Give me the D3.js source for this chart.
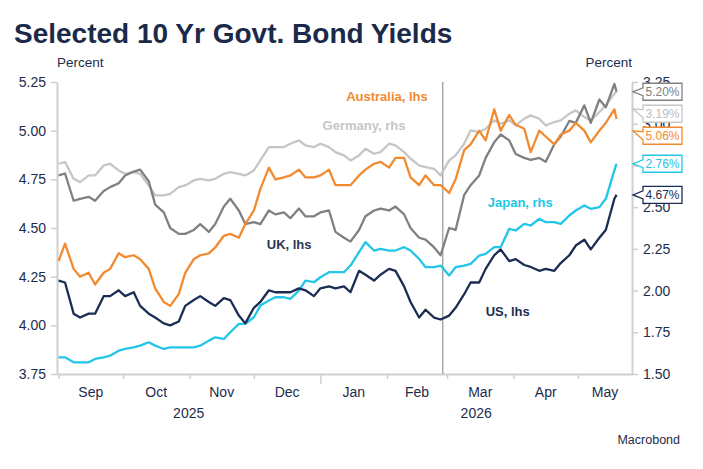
<!DOCTYPE html>
<html>
<head>
<meta charset="utf-8">
<script src="https://cdn.jsdelivr.net/npm/d3@7"></script>
<style>
  body { margin: 0; background: #fff; }
  text { font-family: "Liberation Sans", Arial, sans-serif; }
</style>
</head>
<body>
<svg width="703" height="469"></svg>
<script>
// observation dates (Mon / Thu sampling)
const dates = [
  "2025-09-01","2025-09-04","2025-09-08","2025-09-11","2025-09-15","2025-09-18","2025-09-22","2025-09-25","2025-09-29","2025-10-02",
  "2025-10-06","2025-10-09","2025-10-13","2025-10-16","2025-10-20","2025-10-23","2025-10-27","2025-10-30","2025-11-03","2025-11-06",
  "2025-11-10","2025-11-13","2025-11-17","2025-11-20","2025-11-24","2025-11-27","2025-12-01","2025-12-04","2025-12-08","2025-12-11",
  "2025-12-15","2025-12-18","2025-12-22","2025-12-25","2025-12-29","2026-01-01","2026-01-05","2026-01-08","2026-01-12","2026-01-15",
  "2026-01-19","2026-01-22","2026-01-26","2026-01-29","2026-02-02","2026-02-05","2026-02-09","2026-02-12","2026-02-16","2026-02-19",
  "2026-02-23","2026-02-26","2026-03-02","2026-03-05","2026-03-09","2026-03-12","2026-03-16","2026-03-19","2026-03-23","2026-03-26",
  "2026-03-30","2026-04-02","2026-04-06","2026-04-09","2026-04-13","2026-04-16","2026-04-20","2026-04-23","2026-04-27","2026-04-30",
  "2026-05-04","2026-05-07","2026-05-11","2026-05-14","2026-05-18","2026-05-19"
];

// left-hand scale series
const ukValues = [
  4.77,4.78,4.64,4.65,4.66,4.64,4.69,4.71,4.73,4.77,
  4.79,4.80,4.74,4.62,4.58,4.50,4.47,4.47,4.49,4.52,
  4.48,4.52,4.61,4.65,4.59,4.52,4.53,4.52,4.59,4.57,
  4.58,4.55,4.60,4.56,4.56,4.58,4.59,4.48,4.45,4.43,
  4.49,4.56,4.59,4.60,4.59,4.61,4.57,4.50,4.45,4.44,
  4.40,4.36,4.50,4.49,4.67,4.72,4.77,4.86,4.94,4.98,
  4.95,4.88,4.86,4.85,4.86,4.84,4.93,4.97,5.05,5.04,
  5.13,5.04,5.16,5.12,5.24,5.20
];
const australiaValues = [
  4.33,4.42,4.29,4.25,4.27,4.21,4.27,4.29,4.37,4.35,
  4.36,4.34,4.29,4.19,4.12,4.10,4.16,4.27,4.34,4.36,
  4.37,4.40,4.46,4.47,4.45,4.52,4.59,4.70,4.81,4.75,
  4.76,4.77,4.80,4.76,4.76,4.77,4.80,4.72,4.72,4.72,
  4.77,4.80,4.83,4.84,4.81,4.86,4.86,4.76,4.72,4.77,
  4.72,4.72,4.68,4.75,4.90,4.93,5.00,4.95,5.11,5.00,
  5.08,5.03,5.01,4.89,5.00,4.97,4.93,4.98,5.00,5.04,
  5.00,4.94,5.00,5.04,5.11,5.06
];
const usValues = [
  4.23,4.22,4.06,4.04,4.06,4.06,4.15,4.15,4.18,4.15,
  4.17,4.10,4.06,4.04,4.01,4.00,4.02,4.10,4.13,4.15,
  4.12,4.10,4.14,4.13,4.05,4.01,4.09,4.12,4.18,4.17,
  4.17,4.17,4.19,4.18,4.15,4.19,4.20,4.19,4.20,4.17,
  4.28,4.26,4.23,4.26,4.29,4.28,4.20,4.12,4.04,4.08,
  4.04,4.03,4.05,4.09,4.16,4.22,4.22,4.29,4.36,4.39,
  4.33,4.34,4.31,4.30,4.28,4.29,4.28,4.32,4.36,4.41,
  4.44,4.39,4.45,4.49,4.65,4.67
];

// right-hand scale series
const germanyValues = [
  2.76,2.77,2.67,2.65,2.69,2.69,2.75,2.76,2.72,2.70,
  2.71,2.70,2.63,2.57,2.57,2.58,2.62,2.63,2.66,2.67,
  2.66,2.67,2.70,2.71,2.70,2.69,2.72,2.78,2.86,2.86,
  2.86,2.88,2.90,2.87,2.86,2.88,2.86,2.83,2.81,2.78,
  2.81,2.85,2.82,2.83,2.88,2.87,2.83,2.79,2.75,2.74,
  2.73,2.69,2.78,2.81,2.88,2.96,2.95,2.97,3.02,3.00,
  3.02,2.99,3.03,3.05,3.03,2.99,3.01,3.02,3.06,3.08,
  3.04,3.02,3.07,3.11,3.18,3.19
];
const japanValues = [
  1.60,1.60,1.57,1.57,1.57,1.59,1.60,1.61,1.64,1.65,
  1.66,1.67,1.69,1.67,1.65,1.66,1.66,1.66,1.66,1.67,
  1.70,1.72,1.71,1.75,1.80,1.80,1.84,1.91,1.94,1.96,
  1.96,1.95,2.00,2.06,2.05,2.08,2.11,2.11,2.11,2.15,
  2.23,2.29,2.24,2.25,2.24,2.24,2.26,2.24,2.19,2.14,
  2.14,2.15,2.09,2.14,2.15,2.16,2.21,2.22,2.26,2.26,
  2.37,2.36,2.40,2.39,2.43,2.41,2.41,2.40,2.45,2.48,
  2.51,2.49,2.50,2.55,2.72,2.76
];

const leftTicks = [3.75, 4.00, 4.25, 4.50, 4.75, 5.00, 5.25];
const rightTicks = [1.50, 1.75, 2.00, 2.25, 2.50, 2.75, 3.00, 3.25];
const markerDate = "2026-02-27";

const svg = d3.select("svg");
const width = +svg.attr("width");
const height = +svg.attr("height");
const margin = { top: 82, right: 71, bottom: 95, left: 57 };
const textColor = "#1d2c4c";
const axisColor = "#cfcfcf";
const parse = d3.timeParse("%Y-%m-%d");
const parsedDates = dates.map(parse);

const series = [
  { name: "Germany", values: germanyValues, axis: "right", color: "#c6c6c6" },
  { name: "UK", values: ukValues, axis: "left", color: "#808080" },
  { name: "Japan", values: japanValues, axis: "right", color: "#22c6e8" },
  { name: "Australia", values: australiaValues, axis: "left", color: "#f28a30" },
  { name: "US", values: usValues, axis: "left", color: "#1b2d52" }
];

// scales
const x = d3.scaleTime()
  .domain([new Date(2025, 7, 31, 6), new Date(2026, 4, 26, 5)])
  .range([margin.left, width - margin.right]);
const yLeft = d3.scaleLinear()
  .domain([3.75, 5.25])
  .range([height - margin.bottom, margin.top]);
const yRight = d3.scaleLinear()
  .domain([1.5, 3.25])
  .range([height - margin.bottom, margin.top]);
const yOf = (axis) => (axis === "left" ? yLeft : yRight);

// title
svg.append("text")
  .attr("x", 14)
  .attr("y", 43)
  .attr("fill", "#1b2a48")
  .attr("font-size", "28px")
  .attr("font-weight", "bold")
  .text("Selected 10 Yr Govt. Bond Yields");

svg.append("text")
  .attr("x", margin.left)
  .attr("y", 67)
  .attr("fill", textColor)
  .attr("font-size", "13.5px")
  .text("Percent");

svg.append("text")
  .attr("x", width - margin.right)
  .attr("y", 67)
  .attr("text-anchor", "end")
  .attr("fill", textColor)
  .attr("font-size", "13.5px")
  .text("Percent");

function styleAxis(g) {
  g.select(".domain").attr("stroke", axisColor).attr("stroke-width", 2);
  g.selectAll(".tick line").attr("stroke", axisColor).attr("stroke-width", 1.5);
  g.selectAll(".tick text")
    .attr("fill", textColor)
    .attr("font-size", "14px")
    .attr("font-family", "Liberation Sans, Arial, sans-serif");
}

// axes
svg.append("g")
  .attr("transform", `translate(${margin.left},0)`)
  .call(d3.axisLeft(yLeft).tickValues(leftTicks).tickFormat(d3.format(".2f"))
    .tickSize(6).tickSizeOuter(0).tickPadding(5))
  .call(styleAxis);

svg.append("g")
  .attr("transform", `translate(${width - margin.right},0)`)
  .call(d3.axisRight(yRight).tickValues(rightTicks).tickFormat(d3.format(".2f"))
    .tickSize(6).tickSizeOuter(0).tickPadding(5))
  .call(styleAxis);

const monthStarts = d3.timeMonth.range(new Date(2025, 8, 1), new Date(2026, 5, 1));
const xAxis = svg.append("g")
  .attr("transform", `translate(0,${height - margin.bottom})`)
  .call(d3.axisBottom(x).tickValues(monthStarts).tickFormat("").tickSize(5).tickSizeOuter(0))
  .call(styleAxis);
xAxis.selectAll(".tick line")
  .attr("y2", (d) => (d.getMonth() === 0 ? 10 : 5));

// month and year labels, centred on the visible part of each period
const [d0, d1] = x.domain();
const visibleMid = (a, b) => (x(a < d0 ? d0 : a) + x(b > d1 ? d1 : b)) / 2;

svg.append("g")
  .selectAll("text")
  .data(monthStarts)
  .join("text")
  .attr("x", (d) => visibleMid(d, d3.timeMonth.offset(d, 1)))
  .attr("y", height - margin.bottom + 23)
  .attr("text-anchor", "middle")
  .attr("fill", textColor)
  .attr("font-size", "14px")
  .text(d3.timeFormat("%b"));

svg.append("g")
  .selectAll("text")
  .data([new Date(2025, 0, 1), new Date(2026, 0, 1)])
  .join("text")
  .attr("x", (d) => visibleMid(d, d3.timeYear.offset(d, 1)))
  .attr("y", height - margin.bottom + 44)
  .attr("text-anchor", "middle")
  .attr("fill", textColor)
  .attr("font-size", "14px")
  .text(d3.timeFormat("%Y"));

// marker line
svg.append("line")
  .attr("x1", x(parse(markerDate)))
  .attr("x2", x(parse(markerDate)))
  .attr("y1", margin.top)
  .attr("y2", height - margin.bottom)
  .attr("stroke", "#a8a8a8")
  .attr("stroke-width", 1.5);

// lines
series.forEach((s) => {
  const yScale = yOf(s.axis);
  const line = d3.line()
    .x((d, i) => x(parsedDates[i]))
    .y((d) => yScale(d));
  svg.append("path")
    .datum(s.values)
    .attr("fill", "none")
    .attr("stroke", s.color)
    .attr("stroke-width", 2.3)
    .attr("stroke-linejoin", "round")
    .attr("d", line);
});

// series labels
const labels = [
  { text: "Australia, lhs", date: "2026-01-13", value: 5.15, axis: "left", color: "#f28a30" },
  { text: "Germany, rhs", date: "2026-01-02", value: 2.96, axis: "right", color: "#c6c6c6" },
  { text: "UK, lhs", date: "2025-12-07", value: 4.39, axis: "left", color: "#2b3550" },
  { text: "Japan, rhs", date: "2026-03-20", value: 2.50, axis: "right", color: "#22c6e8" },
  { text: "US, lhs", date: "2026-03-19", value: 4.05, axis: "left", color: "#1b2d52" }
];
svg.append("g")
  .selectAll("text")
  .data(labels)
  .join("text")
  .attr("x", (d) => x(parse(d.date)))
  .attr("y", (d) => yOf(d.axis)(d.value))
  .attr("fill", (d) => d.color)
  .attr("font-size", "13px")
  .attr("font-weight", "bold")
  .text((d) => d.text);

// last-value boxes on the right
const boxes = series.map((s) => {
  const last = s.values[s.values.length - 1];
  return { color: s.color, value: last, y: yOf(s.axis)(last) };
}).sort((a, b) => a.y - b.y);

let prev = -Infinity;
boxes.forEach((b) => {
  b.cy = Math.max(b.y, prev + 22);
  prev = b.cy;
});

const bx0 = width - margin.right + 11;
const bx1 = bx0 + 39;
const tipX = width - margin.right + 1;
const bh = 17;

const boxG = svg.append("g");
boxes.forEach((b) => {
  const top = b.cy - bh / 2;
  const bottom = b.cy + bh / 2;
  const tipY = Math.max(b.cy - 5, Math.min(b.cy + 5, b.y));
  const textFill = b.color === "#c6c6c6" ? "#bdbdbd" : b.color;
  boxG.append("path")
    .attr("d", `M${bx0},${top} H${bx1} V${bottom} H${bx0} V${b.cy + 4} L${tipX},${tipY} L${bx0},${b.cy - 4} Z`)
    .attr("fill", "#fff")
    .attr("stroke", b.color)
    .attr("stroke-width", 1.3);
  boxG.append("text")
    .attr("x", (bx0 + bx1) / 2)
    .attr("y", b.cy + 4.5)
    .attr("text-anchor", "middle")
    .attr("fill", textFill)
    .attr("font-size", "12px")
    .text(b.value.toFixed(2) + "%");
});

// source
svg.append("text")
  .attr("x", 680)
  .attr("y", 444)
  .attr("text-anchor", "end")
  .attr("fill", textColor)
  .attr("font-size", "12.5px")
  .text("Macrobond");
</script>
</body>
</html>
